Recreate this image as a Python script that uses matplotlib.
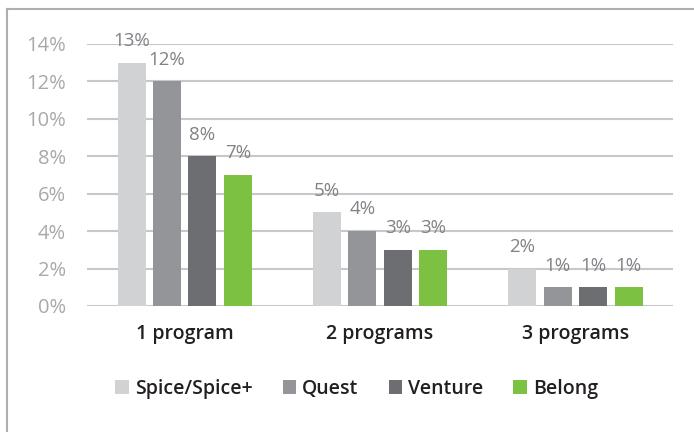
import numpy as np
import matplotlib
matplotlib.use("Agg")
import matplotlib.pyplot as plt
from matplotlib.lines import Line2D

plt.rcParams['font.family'] = ['Open Sans', 'DejaVu Sans']

# data
categories = ['1 program', '2 programs', '3 programs']
series = ['Spice/Spice+', 'Quest', 'Venture', 'Belong']
values = {
    'Spice/Spice+': [13, 5, 2],
    'Quest': [12, 4, 1],
    'Venture': [8, 3, 1],
    'Belong': [7, 3, 1],
}
colors = ['#d1d2d4', '#939598', '#6d6e71', '#7dc142']
yticks = [0, 2, 4, 6, 8, 10, 12, 14]

fig = plt.figure(figsize=(6.94, 4.32), dpi=100)
ax = fig.add_axes([0.1254, 0.2917, 0.8446, 0.6065])

x = np.arange(len(categories))
width = 0.143
step = 0.181

for i, name in enumerate(series):
    pos = x + (i - 1.5) * step
    ax.bar(pos, values[name], width=width, color=colors[i], label=name, zorder=3)
    for px, v in zip(pos, values[name]):
        ax.annotate(f'{v}%', (px, v), xytext=(0, 12), textcoords='offset points',
                    ha='center', va='baseline', fontsize=13.5, color='#808285',
                    zorder=4)

ax.set_xlim(-0.5, 2.5)
ax.set_ylim(0, 14)
ax.set_yticks(yticks)
ax.set_yticklabels([f'{t}%' for t in yticks])
ax.yaxis.grid(True, color='#c8c8cc', linewidth=1.5, zorder=0)
ax.set_axisbelow(True)
for s in ax.spines.values():
    s.set_visible(False)
ax.tick_params(axis='y', length=0, pad=15, labelsize=14.5, labelcolor='#a7a9ac')
ax.set_xticks(x)
ax.set_xticklabels(categories, fontweight='semibold')
ax.tick_params(axis='x', length=0, pad=13, labelsize=14, labelcolor='#231f20')

fig.legend(loc='center', bbox_to_anchor=(0.514, 0.1), ncol=4, frameon=False,
           prop={'size': 14, 'weight': 'semibold'},
           handlelength=0.7, handleheight=0.7, handletextpad=0.3,
           columnspacing=1.55, labelcolor='#231f20')

# outer frame (top and left only)
fig.add_artist(Line2D([0.0095, 1.0], [0.980, 0.980], color='#b0b0a8', linewidth=1.5))
fig.add_artist(Line2D([0.0095, 0.0095], [0.0, 0.980], color='#b0b0a8', linewidth=1.5))

fig.savefig('out.png', dpi=100)
